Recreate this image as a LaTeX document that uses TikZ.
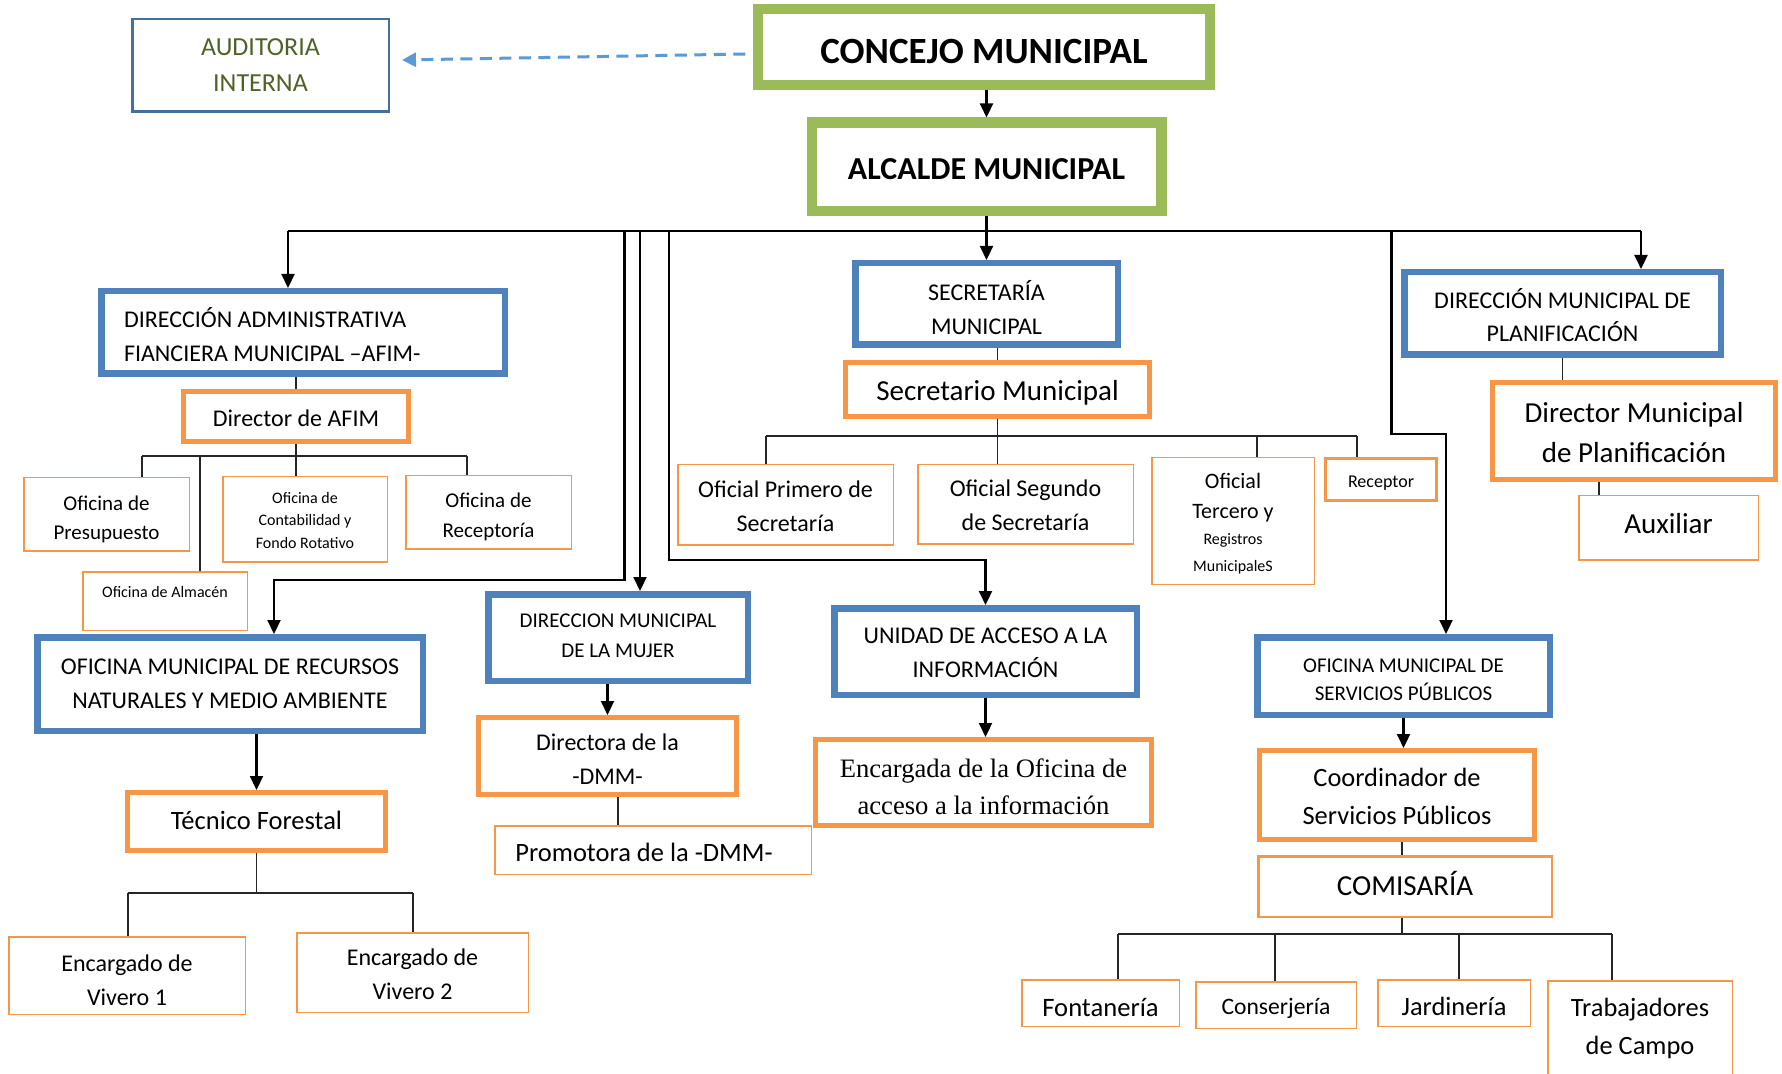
\documentclass[tikz,border=0pt]{standalone}
\usepackage{fontspec}
\setmainfont{Carlito}
\newfontfamily\serifF{Liberation Serif}
\usetikzlibrary{arrows.meta,calc}
\definecolor{greenC}{HTML}{9BBB59}
\definecolor{blueC}{HTML}{4F81BD}
\definecolor{orangeC}{HTML}{F79646}
\definecolor{audC}{HTML}{41719C}
\definecolor{audT}{HTML}{4F6228}
\definecolor{dashC}{HTML}{5B9BD5}
\newcommand{\myfs}[2]{\fontsize{#1}{#2}\selectfont}
\tikzset{
  every label/.style={inner sep=0pt, align=center, text=black},
  base/.style={rectangle, inner sep=0pt, fill=white},
  gbox/.style={base, draw=greenC, line width=4.25pt},
  bbox/.style={base, draw=blueC, line width=3.25pt},
  obox/.style={base, draw=orangeC, line width=2.5pt},
  tbox/.style={base, draw=orangeC, line width=0.75pt},
  arr/.style={draw=black, line width=1.1pt, -{Triangle[length=7pt,width=6.5pt]}},
  bline/.style={draw=black, line width=1.1pt},
  tl/.style={draw=black!85, line width=0.6pt},
  dashA/.style={draw=dashC, line width=1.5pt, dash pattern=on 6pt off 3.75pt, -{Triangle[length=7pt,width=7pt]}}
}
\begin{document}
\begin{tikzpicture}[x=0.5pt,y=-0.5pt]
\fill[white] (0,0) rectangle (1782,1074);
\useasboundingbox (0,0) rectangle (1782,1074);

% top level
\node[gbox, minimum width=226.5pt, minimum height=38.5pt,
  label={[name=conT, font=\myfs{18.5}{22}\bfseries, yshift=-2.3pt]center:CONCEJO MUNICIPAL}] (con) at (984,47) {};
\draw[greenC, line width=1.1pt] ($(con.north west)+(9,9)$) rectangle ($(con.south east)+(-9,-9)$);
\node[gbox, minimum width=175.75pt, minimum height=45.25pt,
  label={[name=alcT, font=\myfs{16}{19}\bfseries, yshift=-1.2pt]center:ALCALDE MUNICIPAL}] (alc) at (986.5,167) {};
\draw[greenC, line width=1.1pt] ($(alc.north west)+(9,9)$) rectangle ($(alc.south east)+(-9,-9)$);
\node[base, draw=audC, line width=1.25pt, minimum width=128.25pt, minimum height=46.25pt,
  label={[name=audT, text=audT, font=\myfs{13}{18}]center:{AUDITORIA\\INTERNA}}] (aud) at (260.5,65.5) {};

% AFIM branch
\node[bbox, minimum width=201.75pt, minimum height=41.25pt,
  label={[name=afimT, font=\myfs{12}{17}, yshift=-1.1pt]center:{\makebox[179pt][l]{DIRECCIÓN ADMINISTRATIVA}\\\makebox[179pt][l]{FIANCIERA MUNICIPAL –AFIM-}}}] (afim) at (303,332.5) {};
\node[obox, minimum width=112.5pt, minimum height=25pt,
  label={[name=dirT, font=\myfs{12}{14}, yshift=-1.1pt]center:Director de AFIM}] (dir) at (296,416.5) {};
\node[tbox, minimum width=82.75pt, minimum height=36.75pt,
  label={[name=preT, font=\myfs{10.5}{14.5}, yshift=-2.4pt]center:{Oficina de\\Presupuesto}}] (pre) at (106.5,514.5) {};
\node[tbox, minimum width=82.25pt, minimum height=42.75pt,
  label={[name=contT, font=\myfs{8}{11.25}, yshift=-0.5pt]center:{Oficina de\\Contabilidad y\\Fondo Rotativo}}] (cont) at (305,519.5) {};
\node[tbox, minimum width=82.75pt, minimum height=36.75pt,
  label={[name=recpT, font=\myfs{10.5}{15}, yshift=-2.2pt]center:{Oficina de\\Receptoría}}] (recp) at (488.5,512.5) {};
\node[tbox, minimum width=82.25pt, minimum height=29.25pt,
  label={[name=almT, font=\myfs{8}{10}, yshift=4.5pt]center:Oficina de Almacén}] (alm) at (165,601) {};

% RRNN branch
\node[bbox, minimum width=192.75pt, minimum height=46.75pt,
  label={[name=rrnnT, font=\myfs{12}{17}]center:{OFICINA MUNICIPAL DE RECURSOS\\NATURALES Y MEDIO AMBIENTE}}] (rrnn) at (230,684) {};
\node[obox, minimum width=129pt, minimum height=29pt,
  label={[name=tecT, font=\myfs{13.25}{16}, yshift=0.5pt]center:Técnico Forestal}] (tec) at (256.5,821.5) {};
\node[tbox, minimum width=118.25pt, minimum height=38.75pt,
  label={[name=viv1T, font=\myfs{12}{17}, yshift=-2.2pt]center:{Encargado de\\Vivero 1}}] (viv1) at (127,975.5) {};
\node[tbox, minimum width=115.75pt, minimum height=39.75pt,
  label={[name=viv2T, font=\myfs{12}{17}, yshift=-1.1pt]center:{Encargado de\\Vivero 2}}] (viv2) at (412.5,972.5) {};

% DMM branch
\node[bbox, minimum width=129.75pt, minimum height=43.25pt,
  label={[name=dmmT, font=\myfs{10.5}{15}, yshift=1.1pt]center:{DIRECCION MUNICIPAL\\DE LA MUJER}}] (dmm) at (618,637.5) {};
\node[obox, minimum width=129pt, minimum height=38.5pt,
  label={[name=diraT, font=\myfs{12}{17}, yshift=-1.7pt]center:{Directora de la\\-DMM-}}] (dira) at (607.5,756) {};
\node[tbox, minimum width=158.25pt, minimum height=24.25pt,
  label={[name=promT, font=\myfs{13.25}{16}, xshift=-4.5pt, yshift=-1.1pt]center:Promotora de la -DMM-}] (prom) at (653,850) {};

% Unidad de acceso
\node[bbox, minimum width=151.25pt, minimum height=43.25pt,
  label={[name=uniT, font=\myfs{12}{17}, yshift=-0.8pt]center:{UNIDAD DE ACCESO A LA\\INFORMACIÓN}}] (uni) at (985.5,651.5) {};
\node[obox, minimum width=168pt, minimum height=43pt,
  label={[name=encT, font=\serifF\myfs{13.3}{18.5}, yshift=-2.2pt]center:{Encargada de la Oficina de\\acceso a la información}}] (enc) at (983.5,782.5) {};

% Secretaria
\node[bbox, minimum width=131.25pt, minimum height=40.75pt,
  label={[name=secT, font=\myfs{12}{17}, yshift=-1.7pt]center:{SECRETARÍA\\MUNICIPAL}}] (sec) at (986.5,304) {};
\node[obox, minimum width=152pt, minimum height=27pt,
  label={[name=secmT, font=\myfs{14.5}{17}, yshift=-1.7pt]center:Secretario Municipal}] (secm) at (997.5,389.5) {};
\node[tbox, minimum width=107.75pt, minimum height=40.25pt,
  label={[name=of1T, font=\myfs{12}{17}, yshift=-0.5pt]center:{Oficial Primero de\\Secretaría}}] (of1) at (785.5,505) {};
\node[tbox, minimum width=107.75pt, minimum height=39.75pt,
  label={[name=of2T, font=\myfs{12}{17}, yshift=-0.5pt]center:{Oficial Segundo\\de Secretaría}}] (of2) at (1025.5,504.5) {};
\node[tbox, minimum width=81.25pt, minimum height=63.25pt,
  label={[name=of3T, font=\myfs{11}{15}, yshift=-1.5pt]center:{Oficial\\Tercero y\\[-2pt]{\myfs{8}{10}Registros}\\[-1.5pt]{\myfs{8}{10}MunicipaleS}}}] (of3) at (1233,521) {};
\node[base, draw=orangeC, line width=1.5pt, minimum width=55.5pt, minimum height=21pt,
  label={[name=rcpT, font=\myfs{9}{11}, yshift=-1.6pt]center:Receptor}] (rcp) at (1381,479.5) {};

% Planificacion
\node[bbox, minimum width=158.25pt, minimum height=41.25pt,
  label={[name=plaT, font=\myfs{12}{16.5}, yshift=-0.8pt]center:{DIRECCIÓN MUNICIPAL DE\\PLANIFICACIÓN}}] (pla) at (1562.5,313.5) {};
\node[obox, minimum width=141.5pt, minimum height=48.5pt,
  label={[name=dmpT, font=\myfs{14.5}{20}, yshift=-0.8pt]center:{Director Municipal\\de Planificación}}] (dmp) at (1634,431) {};
\node[tbox, minimum width=89.75pt, minimum height=32.25pt,
  label={[name=auxT, font=\myfs{14.5}{17}, yshift=2.2pt]center:Auxiliar}] (aux) at (1668.5,528) {};

% Servicios publicos
\node[bbox, minimum width=146.25pt, minimum height=38.75pt,
  label={[name=serT, font=\myfs{10.5}{14}, yshift=-1.7pt]center:{OFICINA MUNICIPAL DE\\SERVICIOS PÚBLICOS}}] (ser) at (1403.5,676) {};
\node[obox, minimum width=137.5pt, minimum height=44.5pt,
  label={[name=cooT, font=\myfs{13.2}{19}, yshift=-0.5pt]center:{Coordinador de\\Servicios Públicos}}] (coo) at (1397,795) {};
\node[base, draw=orangeC, line width=1.25pt, minimum width=146.75pt, minimum height=30.25pt,
  label={[name=comT, font=\myfs{14.5}{17}, yshift=1.7pt]center:COMISARÍA}] (com) at (1405,886.5) {};
\node[tbox, minimum width=78.75pt, minimum height=23.25pt,
  label={[name=fonT, font=\myfs{13.3}{16}, yshift=-2.2pt]center:Fontanería}] (fon) at (1100.5,1003) {};
\node[tbox, minimum width=80.25pt, minimum height=23.25pt,
  label={[name=cnsT, font=\myfs{11.8}{14}, yshift=-1.7pt]center:Conserjería}] (cns) at (1276,1005) {};
\node[tbox, minimum width=76.25pt, minimum height=23.25pt,
  label={[name=jarT, font=\myfs{13.2}{16}, yshift=-1.7pt]center:Jardinería}] (jar) at (1454,1003) {};
\node[tbox, minimum width=92.25pt, minimum height=47.25pt,
  label={[name=traT, font=\myfs{13.2}{19}]center:{Trabajadores\\de Campo}}] (tra) at (1640,1028) {};

% coordinates for connectors
\coordinate (busL) at (288,231);
\coordinate (busR) at (1641,231);
\coordinate (b2) at (624.5,231);
\coordinate (k2) at (274,580);
\coordinate (b3) at (640,231);
\coordinate (b4) at (669,231);
\coordinate (k4) at (985.5,560);
\coordinate (b6) at (1391.5,231);
\coordinate (k6) at (1446,434);
\coordinate (s1L) at (142,456);
\coordinate (s1A) at (200,456);
\coordinate (s1R) at (467,456);
\coordinate (s2L) at (766,436);
\coordinate (s2A) at (1257,436);
\coordinate (s2R) at (1357,436);
\coordinate (s3) at (1599,0);
\coordinate (s4) at (618,0);
\coordinate (s5L) at (128,893);
\coordinate (s5R) at (413,893);
\coordinate (s6) at (1402,0);
\coordinate (s7L) at (1118,934);
\coordinate (s7B) at (1275,934);
\coordinate (s7C) at (1459,934);
\coordinate (s7R) at (1612,934);

% dashed to auditoria
\draw[dashA] ($(con.west)+(-8,7)$) -- ($(aud.east)+(12,-5.5)$);

% main arrows
\draw[arr] (con.south -| alc.north) -- (alc.north);
\draw[bline] (busL) -- (busR);
\draw[arr] (alc.south) -- (alc.south |- sec.north);
\draw[arr] (busL) -- (busL |- afim.north);
\draw[arr] (busR) -- (busR |- pla.north);
\draw[arr] (b2) |- (k2) -- (k2 |- rrnn.north);
\draw[arr] (b3) -- (b3 |- dmm.north);
\draw[arr] (b4) |- (k4) -- (k4 |- uni.north);
\draw[arr] (b6) |- (k6) -- (k6 |- ser.north);

% sub arrows
\draw[arr] (dira.north |- dmm.south) -- (dira.north);
\draw[arr] (uni.south) -- (uni.south |- enc.north);
\draw[arr] (tec.north |- rrnn.south) -- (tec.north);
\draw[arr] (ser.south) -- (ser.south |- coo.north);

% AFIM tree
\draw[tl] (dir.north |- afim.south) -- (dir.north);
\draw[tl] (dir.south) -- (dir.south |- cont.north);
\draw[tl] (s1L) -- (s1R);
\draw[tl] (s1L) -- (s1L |- pre.north);
\draw[tl] (s1A) -- (s1A |- alm.north);
\draw[tl] (s1R) -- (s1R |- recp.north);

% Secretaria tree
\draw[tl] (secm.north |- sec.south) -- (secm.north);
\draw[tl] (secm.south) -- (secm.south |- of2.north);
\draw[tl] (s2L) -- (s2R);
\draw[tl] (s2L) -- (s2L |- of1.north);
\draw[tl] (s2A) -- (s2A |- of3.north);
\draw[tl] (s2R) -- (s2R |- rcp.north);

% Planificacion tree
\draw[tl] (pla.south) -- (pla.south |- dmp.north);
\draw[tl] (s3 |- dmp.south) -- (s3 |- aux.north);

% DMM tree
\draw[tl] (s4 |- dira.south) -- (s4 |- prom.north);

% Tecnico tree
\draw[tl] (tec.south) -- (tec.south |- s5L);
\draw[tl] (s5L) -- (s5R);
\draw[tl] (s5L) -- (s5L |- viv1.north);
\draw[tl] (s5R) -- (s5R |- viv2.north);

% Servicios tree
\draw[tl] (s6 |- coo.south) -- (s6 |- com.north);
\draw[tl] (s6 |- com.south) -- (s6 |- s7L);
\draw[tl] (s7L) -- (s7R);
\draw[tl] (s7L) -- (s7L |- fon.north);
\draw[tl] (s7B) -- (s7B |- cns.north);
\draw[tl] (s7C) -- (s7C |- jar.north);
\draw[tl] (s7R) -- (s7R |- tra.north);
\end{tikzpicture}
\end{document}
